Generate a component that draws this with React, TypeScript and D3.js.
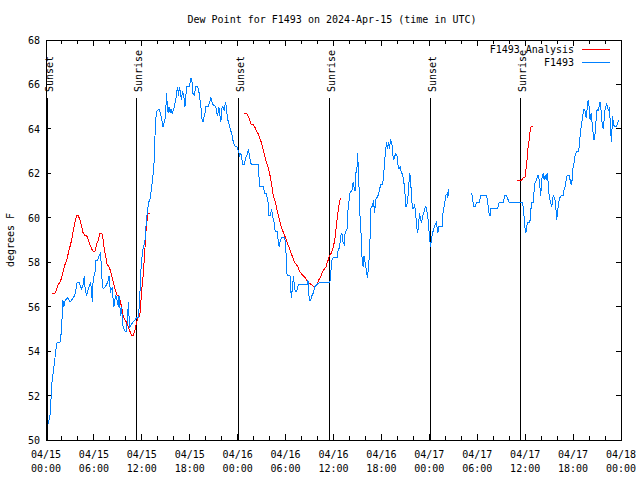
import React from "react";
import * as d3 from "d3";

// ---- data (hours since 2024-04-15 00:00 UTC, degrees F) ----
const startDate = Date.UTC(2024, 3, 15, 0, 0);
const endDate = Date.UTC(2024, 3, 18, 0, 0);
const yTicks = [50, 52, 54, 56, 58, 60, 62, 64, 66, 68];
const titleText = "Dew Point for F1493 on 2024-Apr-15 (time in UTC)";
const yLabel = "degrees F";
const legendNames = ["F1493 Analysis", "F1493"];

const sunEvents: [string, number][] = [
  ["Sunset", 0.12],
  ["Sunrise", 11.27],
  ["Sunset", 24.04],
  ["Sunrise", 35.44],
  ["Sunset", 48.08],
  ["Sunrise", 59.35],
];

const blueSeg1: [number, number][] = [
  [0.25, 50.7], [0.5, 51.1], [0.62, 51.8], [0.75, 52.6], [1.0, 53.3], [1.25, 54.1], [1.4, 54.4],
  [1.75, 54.4], [1.9, 54.8], [2.0, 55.4], [2.1, 56.3], [2.25, 56.0], [2.4, 56.3], [2.75, 56.4],
  [3.0, 56.2], [3.2, 56.3], [3.4, 56.4], [3.6, 56.5], [3.75, 56.8], [3.9, 57.1], [4.15, 57.1],
  [4.45, 56.8], [4.65, 57.0], [4.8, 57.4], [4.9, 56.8], [5.1, 56.5], [5.3, 56.8], [5.5, 57.0],
  [5.6, 57.1], [5.8, 56.2], [5.9, 57.2], [6.15, 57.6], [6.25, 58.1], [6.45, 58.1], [6.65, 58.3],
  [6.8, 58.4], [6.9, 58.0], [7.0, 57.3], [7.15, 56.8], [7.4, 56.9], [7.6, 57.0], [7.8, 57.2],
  [7.9, 57.4], [8.0, 56.9], [8.1, 56.7], [8.35, 56.9], [8.4, 56.3], [8.5, 56.0], [8.6, 56.3],
  [8.75, 56.5], [8.9, 56.3], [9.05, 56.0], [9.15, 56.5], [9.25, 56.0], [9.35, 55.6], [9.45, 56.0],
  [9.6, 55.3], [9.65, 55.1], [9.9, 54.9], [10.1, 54.9], [10.2, 55.6], [10.35, 56.2], [10.4, 55.5],
  [10.5, 55.1], [10.7, 55.2], [10.9, 55.3], [11.15, 55.4], [11.35, 55.5], [11.55, 55.5],
  [11.65, 55.9], [11.75, 56.5], [11.85, 57.4], [11.95, 58.0], [12.1, 58.5], [12.4, 59.0],
  [12.5, 59.5], [12.6, 60.0], [12.7, 60.3], [12.85, 60.7], [13.0, 60.8], [13.2, 61.3],
  [13.4, 61.9], [13.55, 62.6], [13.65, 63.7], [13.8, 64.7], [13.9, 64.8], [14.15, 64.9],
  [14.35, 64.7], [14.5, 64.4], [14.65, 64.1], [14.8, 64.3], [14.95, 64.5], [15.1, 65.6],
  [15.2, 65.0], [15.3, 64.7], [15.4, 65.0], [15.55, 64.7], [15.65, 64.9], [15.8, 64.7],
  [15.9, 64.8], [16.1, 65.0], [16.2, 65.3], [16.35, 65.5], [16.45, 65.9], [16.6, 65.5],
  [16.7, 65.9], [16.85, 65.6], [16.95, 65.3], [17.1, 65.7], [17.25, 65.5], [17.4, 65.0],
  [17.5, 65.5], [17.65, 65.9], [17.9, 65.9], [18.05, 66.1], [18.15, 66.3], [18.3, 66.1],
  [18.4, 65.6], [18.55, 65.5], [18.75, 65.9], [18.95, 65.9], [19.1, 65.8], [19.25, 65.4],
  [19.4, 65.0], [19.5, 64.5], [19.65, 64.3], [19.75, 64.5], [19.9, 64.7], [20.0, 65.0],
  [20.3, 65.0], [20.5, 65.2], [20.65, 65.4], [20.8, 65.2], [20.9, 65.1], [21.25, 65.0],
  [21.4, 64.7], [21.5, 64.6], [21.65, 65.0], [21.75, 64.7], [21.9, 64.3], [22.0, 64.9],
  [22.15, 65.0], [22.35, 64.8], [22.45, 65.2], [22.6, 65.0], [22.7, 64.5], [22.85, 64.3],
  [23.0, 64.1], [23.15, 63.9], [23.3, 63.7], [23.4, 63.5], [23.55, 63.3], [23.7, 63.2],
  [23.9, 63.2], [24.1, 63.0], [24.25, 62.8], [24.4, 62.9], [24.55, 62.6], [24.65, 62.4],
  [24.85, 62.4], [25.0, 62.7], [25.15, 62.8], [25.35, 63.1], [25.5, 62.7], [25.7, 62.4],
  [25.95, 62.4], [26.6, 62.4], [26.7, 61.6], [26.8, 61.4], [27.2, 61.4], [27.4, 61.1],
  [27.6, 61.1], [27.8, 60.7], [27.9, 60.1], [28.1, 60.1], [28.25, 60.4], [28.35, 60.1],
  [28.55, 59.8], [28.7, 59.4], [28.95, 59.4], [29.1, 58.9], [29.2, 58.7], [29.3, 58.9],
  [29.5, 59.1], [29.9, 59.1], [30.05, 58.5], [30.1, 57.8], [30.2, 57.4], [30.55, 57.4],
  [30.6, 56.9], [30.75, 56.4], [30.85, 56.9], [31.0, 57.4], [31.1, 56.9], [31.2, 56.7],
  [31.4, 56.7], [31.6, 57.0], [32.7, 57.0], [32.8, 57.2], [32.9, 56.8], [32.95, 56.3],
  [33.15, 56.3], [33.3, 56.5], [33.45, 56.6], [33.65, 56.9], [33.95, 57.0], [34.3, 57.1],
  [35.55, 57.1], [35.7, 57.7], [35.8, 58.1], [35.95, 58.2], [36.45, 58.2], [36.6, 58.6],
  [36.75, 58.6], [36.9, 59.2], [37.05, 59.3], [37.2, 58.9], [37.35, 58.8], [37.45, 59.3],
  [37.7, 59.5], [37.8, 60.3], [37.95, 60.8], [38.1, 61.2], [38.3, 61.2], [38.45, 61.6],
  [38.55, 61.4], [38.7, 61.2], [38.8, 62.0], [38.95, 62.3], [39.0, 62.9], [39.15, 62.1],
  [39.25, 60.5], [39.45, 59.3], [39.55, 58.3], [39.7, 57.8], [39.8, 58.3], [39.95, 58.0],
  [40.1, 57.7], [40.25, 57.3], [40.4, 57.8], [40.5, 58.4], [40.6, 59.3], [40.7, 60.5],
  [40.9, 60.5], [41.0, 60.8], [41.15, 60.2], [41.25, 60.7], [41.35, 60.9], [41.5, 60.9],
  [41.65, 61.1], [41.85, 61.4], [41.95, 61.5], [42.15, 61.5], [42.25, 61.8], [42.4, 62.5],
  [42.5, 63.0], [42.65, 63.4], [42.75, 63.1], [42.9, 63.4], [43.0, 63.1], [43.15, 63.5],
  [43.3, 63.4], [43.45, 62.8], [43.55, 62.6], [43.7, 62.8], [43.8, 62.9], [43.95, 62.8],
  [44.05, 62.4], [44.2, 62.2], [44.35, 62.3], [44.5, 62.0], [44.65, 62.0], [44.8, 61.6],
  [44.9, 61.4], [45.05, 60.5], [45.15, 60.5], [45.3, 60.8], [45.4, 61.4], [45.55, 62.0],
  [45.65, 61.7], [45.8, 60.8], [45.9, 60.4], [46.05, 60.4], [46.15, 60.6], [46.3, 60.2],
  [46.4, 59.6], [46.55, 59.3], [46.65, 59.8], [46.8, 60.2], [46.9, 59.9], [47.05, 59.8],
  [47.15, 60.1], [47.3, 60.2], [47.4, 60.4], [47.55, 60.5], [47.65, 60.4], [47.8, 60.1],
  [47.9, 59.7], [48.05, 59.0], [48.15, 58.7], [48.25, 59.0], [48.4, 59.3], [48.55, 59.5],
  [48.75, 59.7], [48.9, 59.8], [49.05, 59.3], [49.2, 59.6], [49.6, 59.6], [49.7, 60.2],
  [49.9, 60.6], [50.05, 61.0], [50.25, 61.1], [50.3, 60.9], [50.45, 61.3],
];

const blueSeg2: [number, number][] = [
  [53.31, 61.1], [53.43, 60.8], [53.56, 60.5], [53.76, 60.5], [53.93, 60.7], [54.26, 60.7],
  [54.43, 61.0], [54.56, 61.0], [55.18, 61.0], [55.31, 60.7], [55.47, 60.2], [55.6, 60.1],
  [55.68, 60.4], [56.43, 60.4], [56.63, 60.5], [56.76, 60.7], [57.26, 60.7], [57.46, 61.0],
  [57.67, 61.0], [57.87, 60.8], [58.0, 60.7], [59.46, 60.7], [59.63, 60.7], [59.75, 60.5],
  [59.88, 60.0], [59.96, 59.6], [60.09, 59.3], [60.17, 59.6], [60.37, 59.8], [60.59, 59.8],
  [60.68, 60.2], [60.8, 60.7], [61.0, 60.7], [61.09, 61.1], [61.25, 61.6], [61.43, 61.7],
  [61.55, 61.9], [61.68, 61.9], [61.75, 61.7], [61.84, 61.4], [61.96, 61.0], [62.05, 61.7],
  [62.18, 61.9], [62.25, 62.0], [62.38, 61.7], [62.5, 61.9], [62.63, 61.7], [62.75, 62.0],
  [62.88, 61.6], [63.0, 61.0], [63.18, 60.7], [63.3, 60.5], [63.43, 60.7], [63.5, 61.0],
  [63.71, 60.9], [63.84, 60.5], [63.93, 59.9], [64.05, 60.2], [64.18, 60.7], [64.34, 60.9],
  [64.55, 61.0], [64.75, 61.0], [64.88, 61.3], [65.0, 61.4], [65.13, 61.7], [65.25, 61.9],
  [65.5, 61.9], [65.63, 61.7], [65.75, 61.5], [65.88, 61.7], [66.0, 62.3], [66.13, 62.5],
  [66.25, 62.8], [66.43, 63.0], [66.68, 63.0], [66.76, 63.2], [66.88, 63.7], [67.01, 64.1],
  [67.13, 64.4], [67.26, 64.7], [67.38, 64.9], [67.51, 64.8], [67.63, 64.5], [67.76, 64.9],
  [67.88, 65.3], [68.01, 65.0], [68.13, 64.4], [68.26, 64.7], [68.38, 64.3], [68.51, 63.8],
  [68.63, 63.5], [68.76, 63.8], [68.88, 64.4], [69.01, 64.9], [69.13, 64.8], [69.26, 65.0],
  [69.38, 65.2], [69.51, 64.8], [69.63, 64.3], [69.76, 64.0], [69.88, 64.4], [70.01, 64.9],
  [70.19, 65.1], [70.31, 65.0], [70.44, 64.8], [70.56, 65.0], [70.69, 64.0], [70.81, 63.4],
  [70.94, 64.6], [71.06, 64.2], [71.19, 64.1], [71.44, 64.1], [71.63, 64.3], [71.76, 64.4],
];

const redSeg1: [number, number][] = [
  [0.71, 56.6], [1.13, 56.6], [1.34, 56.8], [1.54, 57.0], [1.75, 57.1], [1.96, 57.3],
  [2.16, 57.6], [2.38, 57.9], [2.59, 58.1], [2.79, 58.4], [3.0, 58.7], [3.21, 59.0],
  [3.41, 59.4], [3.63, 59.8], [3.84, 60.1], [4.04, 60.1], [4.25, 59.9], [4.46, 59.6],
  [4.66, 59.3], [4.88, 59.2], [5.09, 59.2], [5.29, 59.0], [5.5, 58.8], [5.71, 58.6],
  [5.91, 58.5], [6.13, 58.5], [6.34, 58.8], [6.54, 59.0], [6.75, 59.3], [6.96, 59.3],
  [7.09, 59.2], [7.25, 58.7], [7.46, 58.3], [7.66, 57.9], [7.88, 57.8], [8.09, 57.6],
  [8.29, 57.3], [8.5, 57.0], [8.71, 56.7], [8.91, 56.5], [9.13, 56.5], [9.25, 56.3],
  [9.46, 56.0], [9.66, 55.6], [9.88, 55.4], [10.09, 55.3], [10.29, 55.1], [10.5, 54.9],
  [10.71, 54.7], [10.91, 54.7], [11.13, 54.9], [11.34, 55.3], [11.54, 55.5], [11.75, 55.6],
  [11.88, 56.2], [12.0, 56.8], [12.16, 57.4], [12.34, 58.3], [12.5, 59.3], [12.66, 59.9],
  [12.79, 60.2], [12.96, 60.2],
];

const redSeg2: [number, number][] = [
  [24.79, 64.7], [25.09, 64.7], [25.29, 64.6], [25.5, 64.4], [25.71, 64.2], [25.91, 64.2],
  [26.13, 64.1], [26.34, 63.9], [26.54, 63.8], [26.75, 63.6], [26.96, 63.4], [27.16, 63.1],
  [27.38, 62.8], [27.59, 62.5], [27.79, 62.3], [28.0, 62.0], [28.21, 61.6], [28.41, 61.1],
  [28.63, 60.8], [28.84, 60.5], [29.04, 60.2], [29.25, 59.9], [29.46, 59.6], [29.66, 59.4],
  [29.88, 59.2], [30.09, 59.0], [30.29, 58.8], [30.5, 58.6], [30.71, 58.4], [30.91, 58.2],
  [31.13, 58.0], [31.34, 57.9], [31.54, 57.8], [31.75, 57.6], [32.16, 57.4], [32.5, 57.3],
  [32.79, 57.1], [33.21, 57.0], [33.5, 56.9], [33.71, 56.9], [33.91, 57.0], [34.16, 57.2],
  [34.46, 57.4], [34.66, 57.6], [34.88, 57.7], [35.09, 57.8], [35.21, 58.0], [35.34, 58.1],
  [35.5, 58.3], [35.71, 58.4], [35.91, 58.6], [36.04, 58.8], [36.16, 59.0], [36.29, 59.4],
  [36.41, 59.8], [36.54, 60.2], [36.66, 60.5], [36.79, 60.8], [36.96, 60.9],
];

const redSeg3: [number, number][] = [
  [59.0, 61.7], [59.25, 61.7], [59.55, 61.7], [59.75, 61.8], [59.96, 61.8], [60.05, 62.0],
  [60.17, 62.4], [60.3, 62.8], [60.37, 63.2], [60.5, 63.5], [60.62, 63.9], [60.75, 64.1],
  [61.0, 64.1],
];

const analysisSegments = [redSeg1, redSeg2, redSeg3];
const stationSegments = [blueSeg1, blueSeg2];

const RED = "#ff0000";
const BLUE = "#0080ff";
const FONT = "'DejaVu Sans Mono', 'Liberation Mono', monospace";

export default function App() {
  const W = 640, H = 480;
  const left = 46, right = 621, top = 40, bottom = 440;
  const toDate = (h: number) => new Date(startDate + h * 3600e3);
  const x = d3.scaleUtc().domain([new Date(startDate), new Date(endDate)]).range([left, right]);
  const y = d3.scaleLinear().domain([50, 68]).range([bottom, top]);
  const line = d3.line<[number, number]>().x((d) => x(toDate(d[0]))).y((d) => y(d[1]));

  const majorTicks = d3.utcHour.every(6)!.range(new Date(startDate), new Date(endDate + 1));
  const minorTicks = d3.utcHour.every(2)!.range(new Date(startDate), new Date(endDate + 1));
  const fmtDate = d3.utcFormat("%m/%d");
  const fmtTime = d3.utcFormat("%H:%M");

  const sunTop = top + (bottom - top) * 0.145;

  return (
    <svg width={W} height={H} style={{ position: "absolute", left: 0, top: 0, background: "#fff" }}
      fontFamily={FONT} fontSize={10}>
      <rect x={0} y={0} width={W} height={H} fill="#fff" />
      <text x={332} y={23} textAnchor="middle" fill="#000">{titleText}</text>
      <text transform={`translate(14,${(top + bottom) / 2}) rotate(-90)`} textAnchor="middle" fill="#000">{yLabel}</text>

      {/* y ticks */}
      {yTicks.map((t) => (
        <g key={"y" + t} shapeRendering="crispEdges">
          <line x1={left} x2={left + 5} y1={y(t)} y2={y(t)} stroke="#000" />
          <line x1={right - 5} x2={right} y1={y(t)} y2={y(t)} stroke="#000" />
          <text x={40} y={y(t) + 4} textAnchor="end" fill="#000">{t}</text>
        </g>
      ))}
      {/* x ticks */}
      {minorTicks.map((t, i) => (
        <g key={"mx" + i} shapeRendering="crispEdges">
          <line x1={x(t)} x2={x(t)} y1={bottom} y2={bottom - 4} stroke="#000" />
          <line x1={x(t)} x2={x(t)} y1={top} y2={top + 4} stroke="#000" />
        </g>
      ))}
      {majorTicks.map((t, i) => (
        <g key={"x" + i}>
          <line x1={x(t)} x2={x(t)} y1={bottom} y2={bottom - 6} stroke="#000" shapeRendering="crispEdges" />
          <line x1={x(t)} x2={x(t)} y1={top} y2={top + 6} stroke="#000" shapeRendering="crispEdges" />
          <text x={x(t)} y={458} textAnchor="middle" fill="#000">{fmtDate(t)}</text>
          <text x={x(t)} y={472} textAnchor="middle" fill="#000">{fmtTime(t)}</text>
        </g>
      ))}

      {/* sun events */}
      {sunEvents.map(([label, h], i) => {
        const sx = Math.round(x(toDate(h)));
        return (
          <g key={"sun" + i}>
            <line x1={sx + 0.5} x2={sx + 0.5} y1={sunTop} y2={bottom} stroke="#000" shapeRendering="crispEdges" />
            <text transform={`translate(${sx + 6},${sunTop - 6}) rotate(-90)`} fill="#000">{label}</text>
          </g>
        );
      })}

      {/* data */}
      {analysisSegments.map((seg, i) => (
        <path key={"r" + i} d={line(seg) || ""} fill="none" stroke={RED} strokeWidth={1} shapeRendering="crispEdges" />
      ))}
      {stationSegments.map((seg, i) => (
        <path key={"b" + i} d={line(seg) || ""} fill="none" stroke={BLUE} strokeWidth={1} shapeRendering="crispEdges" />
      ))}

      {/* frame */}
      <rect x={left + 0.5} y={top + 0.5} width={right - left} height={bottom - top} fill="none" stroke="#000" shapeRendering="crispEdges" />

      {/* legend */}
      <text x={574} y={53} textAnchor="end" fill="#000">{legendNames[0]}</text>
      <line x1={582} x2={610} y1={49.5} y2={49.5} stroke={RED} shapeRendering="crispEdges" />
      <text x={574} y={66} textAnchor="end" fill="#000">{legendNames[1]}</text>
      <line x1={582} x2={610} y1={62.5} y2={62.5} stroke={BLUE} shapeRendering="crispEdges" />
    </svg>
  );
}
